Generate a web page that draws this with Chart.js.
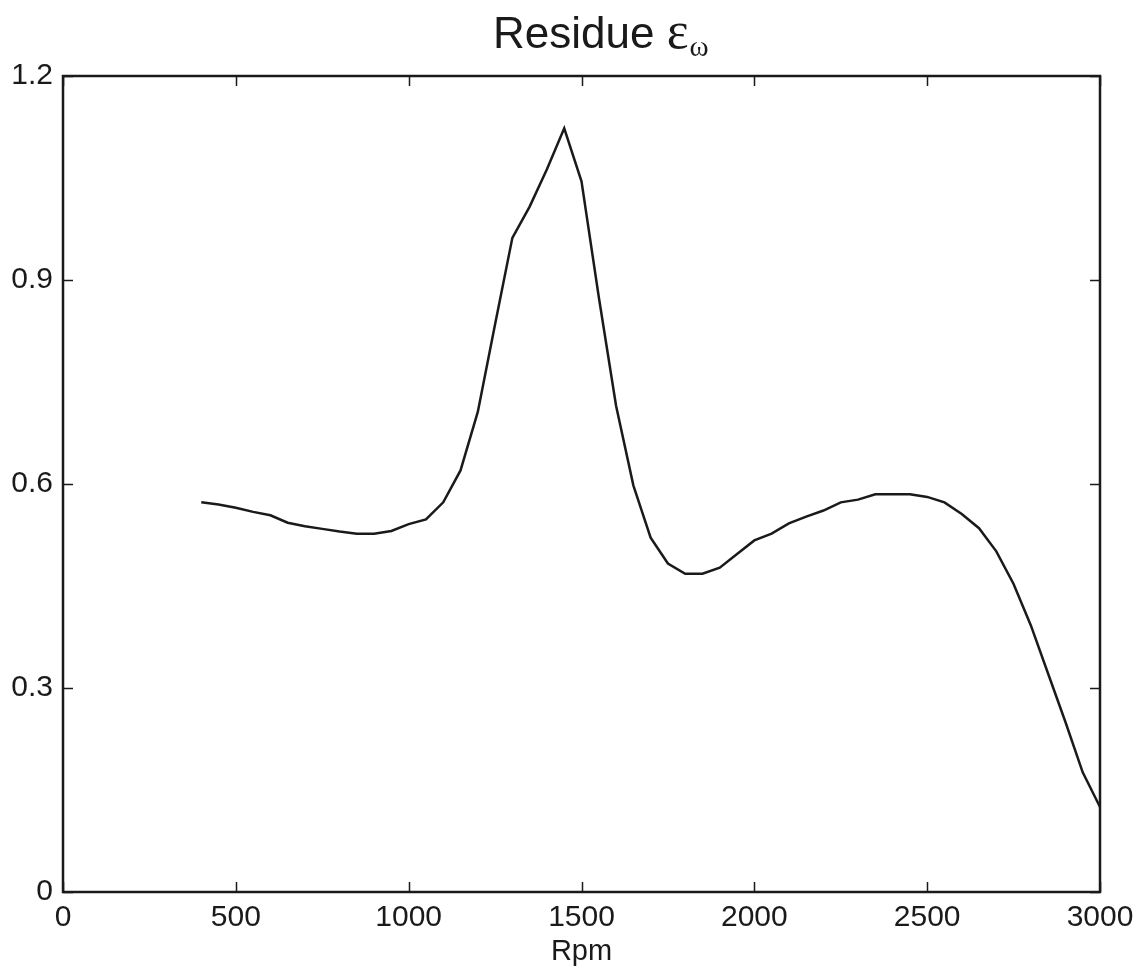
<!DOCTYPE html>
<html>
<head>
<meta charset="utf-8">
<script src="https://cdn.jsdelivr.net/npm/chart.js@4"></script>
<style>
  html, body { margin: 0; padding: 0; background: #fff; }
  #wrap { position: relative; width: 1142px; height: 976px; }
</style>
</head>
<body>
<div id="wrap"><canvas id="residueChart" width="1142" height="976"></canvas></div>
<script>
// data
const rpm = [400, 450, 500, 550, 600, 650, 700, 750, 800, 850, 900, 950, 1000, 1050, 1100, 1150, 1200,
    1250, 1300, 1350, 1400, 1450, 1500, 1550, 1600, 1650, 1700, 1750, 1800, 1850, 1900, 1950, 2000,
    2050, 2100, 2150, 2200, 2250, 2300, 2350, 2400, 2450, 2500, 2550, 2600, 2650, 2700, 2750, 2800,
    2850, 2900, 2950, 3000];
const residue = [0.573, 0.570, 0.565, 0.559, 0.554, 0.543, 0.538, 0.534, 0.530, 0.527, 0.527, 0.531, 0.541,
    0.548, 0.573, 0.620, 0.706, 0.835, 0.962, 1.008, 1.063, 1.123, 1.045, 0.875, 0.715, 0.598, 0.521,
    0.483, 0.468, 0.468, 0.477, 0.497, 0.517, 0.527, 0.542, 0.552, 0.561, 0.573, 0.577, 0.585, 0.585,
    0.585, 0.581, 0.573, 0.556, 0.535, 0.501, 0.453, 0.392, 0.321, 0.250, 0.176, 0.125];
const xTicks = [0, 500, 1000, 1500, 2000, 2500, 3000];
const yTicks = [0, 0.3, 0.6, 0.9, 1.2];
const yTickLabels = ['0', '0.3', '0.6', '0.9', '1.2'];

const ink = '#1a1a1a';
const sans = "'Liberation Sans', Arial, sans-serif";

// frame + inward ticks on all four sides, title with subscript
const framePlugin = {
    id: 'frame',
    afterDraw(chart) {
        const c = chart.ctx;
        const a = chart.chartArea;
        const xs = chart.scales.x, ys = chart.scales.y;
        const len = 10;
        c.save();
        c.strokeStyle = ink;
        c.lineWidth = 1.5;
        c.beginPath();
        xTicks.forEach(v => {
            const px = Math.round(xs.getPixelForValue(v)) + 0.5;
            c.moveTo(px, a.bottom); c.lineTo(px, a.bottom - len);
            c.moveTo(px, a.top); c.lineTo(px, a.top + len);
        });
        yTicks.forEach(v => {
            const py = Math.round(ys.getPixelForValue(v)) + 0.5;
            c.moveTo(a.left, py); c.lineTo(a.left + len, py);
            c.moveTo(a.right, py); c.lineTo(a.right - len, py);
        });
        c.stroke();
        c.lineWidth = 2.5;
        c.strokeRect(a.left, a.top, a.right - a.left, a.bottom - a.top);

        // title: Residue ε_ω
        c.fillStyle = ink;
        c.textBaseline = 'alphabetic';
        c.textAlign = 'left';
        c.font = '44px ' + sans;
        const x0 = 493, base = 48;
        c.fillText('Residue', x0, base);
        const w = c.measureText('Residue ').width;
        c.font = "52px 'Liberation Serif', 'Times New Roman', serif";
        c.fillText('ε', x0 + w, base);
        const we = c.measureText('ε').width;
        c.font = "29px 'Liberation Serif', 'Times New Roman', serif";
        c.fillText('ω', x0 + w + we + 1, base + 8);
        c.restore();
    }
};

const ctx = document.getElementById('residueChart');

new Chart(ctx, {
    type: 'line',
    data: {
        datasets: [{
            label: 'Residue',
            data: rpm.map((r, i) => ({ x: r, y: residue[i] })),
            borderColor: ink,
            borderWidth: 2.5,
            pointRadius: 0,
            tension: 0,
            fill: false
        }]
    },
    options: {
        responsive: false,
        animation: false,
        layout: {
            padding: { top: 76, right: 42, left: 0, bottom: 0 }
        },
        plugins: {
            legend: { display: false },
            tooltip: { enabled: false }
        },
        scales: {
            x: {
                type: 'linear',
                min: 0,
                max: 3000,
                afterBuildTicks: s => { s.ticks = xTicks.map(v => ({ value: v })); },
                afterFit: s => { s.height = 84; },
                grid: { display: false, drawTicks: false },
                border: { display: false },
                ticks: {
                    padding: 8,
                    color: ink,
                    font: { family: sans, size: 30 },
                    maxRotation: 0,
                    callback: v => String(v)
                },
                title: {
                    display: true,
                    text: 'Rpm',
                    color: ink,
                    font: { family: sans, size: 29 },
                    padding: { top: 0, bottom: 7 }
                }
            },
            y: {
                type: 'linear',
                min: 0,
                max: 1.2,
                afterBuildTicks: s => { s.ticks = yTicks.map(v => ({ value: v })); },
                afterFit: s => { s.width = 63; },
                grid: { display: false, drawTicks: false },
                border: { display: false },
                ticks: {
                    padding: 10,
                    color: ink,
                    font: { family: sans, size: 30 },
                    callback: (v) => yTickLabels[yTicks.indexOf(v)]
                }
            }
        }
    },
    plugins: [framePlugin]
});
</script>
</body>
</html>
